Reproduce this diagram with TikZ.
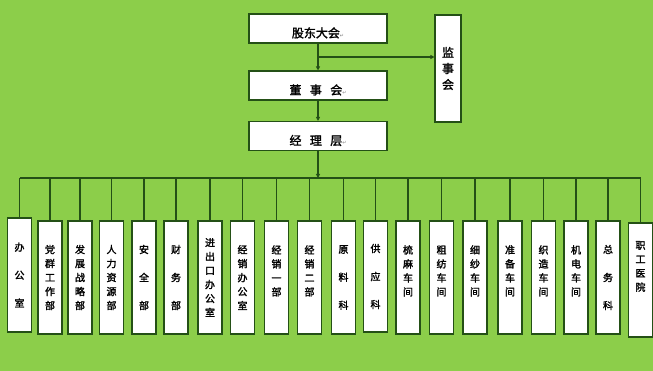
\documentclass[tikz,border=0pt]{standalone}
\usepackage{fontspec}
\usetikzlibrary{arrows.meta}
\newfontfamily\cjk[FakeBold=1.8]{Noto Sans CJK SC}
\newfontfamily\symf{DejaVu Sans}
\definecolor{bg}{RGB}{140,206,74}
\definecolor{ln}{RGB}{36,80,22}
\newcommand{\ret}{{\symf\fontsize{5}{5}\selectfont\color{gray}↵}}
\begin{document}
\begin{tikzpicture}[x=1pt,y=-1pt,
  box/.style={draw=ln, line width=1.1pt, fill=white, rectangle, inner sep=0pt},
  topbox/.style={box, minimum width=138pt, minimum height=29pt,
    font=\cjk\fontsize{12}{14}\selectfont, text height=18pt, text depth=0pt},
  dept/.style={box, minimum width=24pt, minimum height=113pt, align=center,
    font=\cjk\fontsize{10}{14}\selectfont},
  conn/.style={draw=ln, line width=1.2pt},
  arr/.style={conn, -{Triangle[length=4pt,width=4pt]}}]
\useasboundingbox (0,0) rectangle (653,371);
\fill[bg] (0,0) rectangle (653,371);

% top hierarchy
\node[topbox] (gd) at (318,28.5) {股东大会\ret};
\node[topbox] (dsh) at (318,85.5) {董\hspace{0.7em}事\hspace{0.7em}会\ret};
\node[topbox] (jl) at (318,136) {经\hspace{0.7em}理\hspace{0.7em}层\ret};
\node[box, minimum width=26pt, minimum height=107pt, align=center,
  font=\cjk\fontsize{12}{16}\selectfont] (jsh) at (448,68.5) {监\\事\\会};

\draw[arr] (gd.south) -- (dsh.north);
\coordinate (br) at (318,57);
\draw[arr] (br) -- (br -| jsh.west);
\draw[arr] (dsh.south) -- (jl.north);

% departments
\foreach \i/\x/\y/\h/\t in {
  1/19.5/275/114/{办\\[14pt]公\\[14pt]室},
  2/50/277.5/113/{党\\群\\工\\作\\部},
  3/80/277.5/113/{发\\展\\战\\略\\部},
  4/111.5/277.5/113/{人\\力\\资\\源\\部},
  5/144/277.5/113/{安\\[14pt]全\\[14pt]部},
  6/176/277.5/113/{财\\[14pt]务\\[14pt]部},
  7/210/277.5/113/{进\\出\\口\\办\\公\\室},
  8/242.5/277.5/113/{经\\销\\办\\公\\室},
  9/276.5/277.5/113/{经\\销\\一\\部\\~},
  10/309.5/277.5/113/{经\\销\\二\\部\\~},
  11/343.5/277.5/113/{原\\[14pt]料\\[14pt]科},
  12/375.5/276.5/111/{供\\[14pt]应\\[14pt]科},
  13/408/277.5/113/{梳\\麻\\车\\间\\~},
  14/441.5/277.5/113/{粗\\纺\\车\\间\\~},
  15/475/277.5/113/{细\\纱\\车\\间\\~},
  16/510/277.5/113/{准\\备\\车\\间\\~},
  17/543.5/277.5/113/{织\\造\\车\\间\\~},
  18/576/277.5/113/{机\\电\\车\\间\\~},
  19/608/277.5/113/{总\\[14pt]务\\[14pt]科},
  20/640.5/280/114/{职\\工\\医\\院\\~\\~}}
  \node[dept, minimum height=\h pt] (d\i) at (\x,\y) {\t};

\coordinate (bar) at (318,178);
\draw[conn] (d1.north |- bar) -- (d20.north |- bar);
\draw[arr] (jl.south) -- (bar);
\foreach \i in {1,...,20}
  \draw[conn] (d\i.north |- bar) -- (d\i.north);
\end{tikzpicture}
\end{document}
